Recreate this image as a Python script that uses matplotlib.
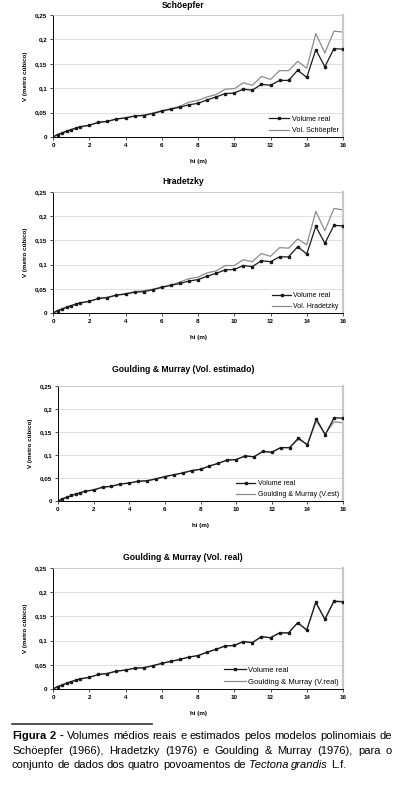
import matplotlib
matplotlib.use("Agg")
import matplotlib.pyplot as plt
from matplotlib.lines import Line2D

plt.rcParams['font.family'] = ['Liberation Sans', 'DejaVu Sans']

# alturas (m) e volumes (m3)
hi = [0, 0.25, 0.5, 0.75, 1, 1.25, 1.5, 2, 2.5, 3, 3.5, 4, 4.5, 5, 5.5, 6, 6.5, 7, 7.5, 8,
      8.5, 9, 9.5, 10, 10.5, 11, 11.5, 12, 12.5, 13, 13.5, 14, 14.5, 15, 15.5, 16]
v_real = [0, 0.005, 0.008, 0.012, 0.015, 0.018, 0.021, 0.024, 0.030, 0.032, 0.037, 0.039,
          0.043, 0.044, 0.048, 0.053, 0.057, 0.061, 0.066, 0.069, 0.076, 0.082, 0.089, 0.090,
          0.098, 0.096, 0.108, 0.106, 0.116, 0.116, 0.137, 0.122, 0.179, 0.144, 0.181, 0.180]
v_schoepfer = [0, 0.005, 0.008, 0.012, 0.015, 0.018, 0.021, 0.024, 0.030, 0.032, 0.037, 0.039,
               0.043, 0.045, 0.049, 0.054, 0.058, 0.063, 0.0715, 0.075, 0.082, 0.087, 0.098, 0.099,
               0.111, 0.106, 0.124, 0.118, 0.136, 0.136, 0.155, 0.141, 0.212, 0.172, 0.217, 0.215]
v_hradetzky = [0, 0.005, 0.008, 0.012, 0.015, 0.018, 0.021, 0.024, 0.030, 0.032, 0.037, 0.040,
               0.044, 0.046, 0.049, 0.054, 0.058, 0.064, 0.071, 0.074, 0.083, 0.087, 0.098, 0.098,
               0.110, 0.106, 0.123, 0.117, 0.135, 0.134, 0.153, 0.141, 0.210, 0.170, 0.216, 0.213]
v_gm_est = [0, 0.005, 0.008, 0.012, 0.015, 0.018, 0.021, 0.024, 0.030, 0.032, 0.037, 0.039,
            0.043, 0.044, 0.048, 0.053, 0.057, 0.061, 0.066, 0.069, 0.076, 0.082, 0.089, 0.090,
            0.098, 0.096, 0.107, 0.106, 0.116, 0.116, 0.134, 0.123, 0.173, 0.146, 0.172, 0.170]
v_gm_real = [0, 0.005, 0.008, 0.012, 0.015, 0.018, 0.021, 0.024, 0.030, 0.032, 0.037, 0.039,
             0.043, 0.044, 0.048, 0.053, 0.057, 0.061, 0.066, 0.069, 0.076, 0.082, 0.089, 0.090,
             0.098, 0.096, 0.108, 0.106, 0.116, 0.116, 0.137, 0.122, 0.179, 0.144, 0.182, 0.181]

titles = ['Schöepfer', 'Hradetzky', 'Goulding & Murray (Vol. estimado)', 'Goulding & Murray (Vol. real)']
est_labels = ['Vol. Schöepfer', 'Vol. Hradetzky', 'Goulding & Murray (V.est)', 'Goulding & Murray (V.real)']
estimates = [v_schoepfer, v_hradetzky, v_gm_est, v_gm_real]
yticks = [0, 0.05, 0.1, 0.15, 0.2, 0.25]
ytick_labels = ['0', '0,05', '0,1', '0,15', '0,2', '0,25']

W, H = 398, 787
fig = plt.figure(figsize=(W / 100, H / 100), dpi=100)

# pixel boxes: left, right, top, bottom
boxes = [(53, 343, 15, 137), (53, 343, 192, 313), (58, 343, 386, 501), (53, 343, 568, 689)]
title_y = [5, 181, 370, 557]
legend_size = [5.2, 5.0, 5.0, 5.5]

for i in range(4):
    l, r, t, b = boxes[i]
    ax = fig.add_axes([l / W, 1 - b / H, (r - l) / W, (b - t) / H])
    ax.plot(hi, estimates[i], color='#8c8c8c', lw=0.9, label=est_labels[i], zorder=2)
    ax.plot(hi, v_real, color='#1a1a1a', lw=0.9, marker='s', ms=1.8, label='Volume real', zorder=3)
    ax.set_xlim(0, 16)
    ax.set_ylim(0, 0.25)
    ax.set_xticks(range(0, 17, 2))
    ax.set_yticks(yticks)
    ax.set_yticklabels(ytick_labels)
    ax.tick_params(labelsize=4.5, length=2, width=0.5, pad=2)
    for lab in ax.get_xticklabels() + ax.get_yticklabels():
        lab.set_fontweight('bold')
    ax.grid(axis='y', color='#dcdcdc', lw=0.6)
    ax.set_axisbelow(True)
    for s in ['left', 'bottom']:
        ax.spines[s].set_linewidth(0.7)
    ax.spines['top'].set_color('#c8c8c8')
    ax.spines['top'].set_linewidth(0.6)
    ax.spines['right'].set_color('#c8c8c8')
    ax.spines['right'].set_linewidth(1.6)
    # title centred over the whole chart block, not only the plot area
    fig.text(183 / W, 1 - title_y[i] / H, titles[i], fontsize=6.2, fontweight='bold',
             ha='center', va='center')
    ax.set_xlabel('hi (m)', fontsize=4.5, fontweight='bold', labelpad=8)
    ax.set_ylabel('V (metro cúbico)', fontsize=4.5, fontweight='bold', labelpad=5)
    h, lb = ax.get_legend_handles_labels()
    ax.legend(h[::-1], lb[::-1], loc='lower right', bbox_to_anchor=(0.995, 0.0), frameon=False,
              fontsize=legend_size[i], handlelength=2.8, handletextpad=0.3, labelspacing=0.6,
              borderaxespad=0)

# caption
fig.add_artist(Line2D([12 / W, 152 / W], [1 - 724 / H, 1 - 724 / H], color='#333333', lw=1.2))

renderer = fig.canvas.get_renderer()
cap_size = 8.0


def words_of(s, wt='normal', st='normal'):
    return [(w, wt, st) for w in s.split()]


line1 = [('Figura', 'bold', 'normal'), ('2', 'bold', 'normal'), ('-', 'bold', 'normal')] + \
    words_of('Volumes médios reais e estimados pelos modelos polinomiais de')
line2 = words_of('Schöepfer (1966), Hradetzky (1976) e Goulding & Murray (1976), para o')
line3 = words_of('conjunto de dados dos quatro povoamentos de') + \
    words_of('Tectona grandis', st='italic') + words_of('L.f.')


def place_line(words, y, size, x0=12, x1=None):
    # lay words out one by one; justify when a right edge is given
    texts = []
    widths = []
    for w, wt, st in words:
        t = fig.text(0, 1 - y / H, w, fontsize=size, fontweight=wt, fontstyle=st,
                     ha='left', va='baseline')
        texts.append(t)
        widths.append(t.get_window_extent(renderer).width)
    gap = 0.278 * size * 100 / 72
    if x1 is not None and len(words) > 1:
        gap = (x1 - x0 - sum(widths)) / (len(words) - 1)
    x = x0
    for t, w in zip(texts, widths):
        t.set_x(x / W)
        x += w + gap


place_line(line1, 739, cap_size, 12, 392)
place_line(line2, 754, cap_size, 12, 392)
place_line(line3, 768, cap_size, 12)

fig.savefig('out.png', dpi=100)
